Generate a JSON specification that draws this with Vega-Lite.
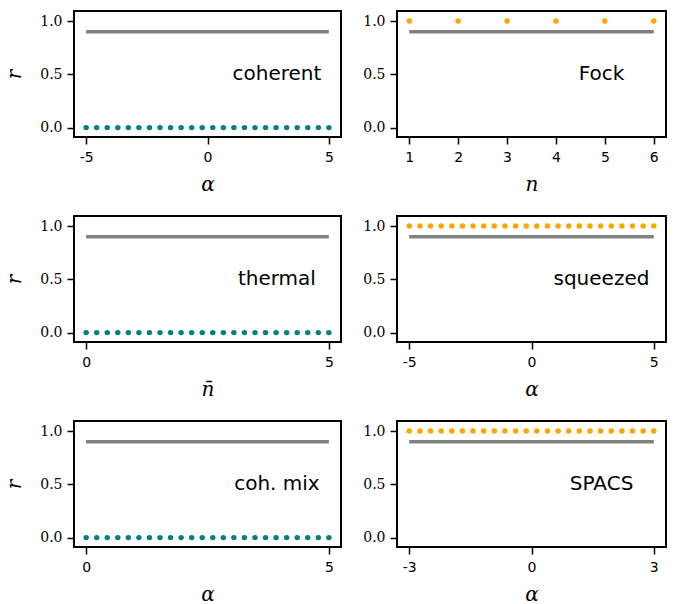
{
  "$schema": "https://vega.github.io/schema/vega-lite/v6.json",
  "padding": {"top": 10, "left": 3, "right": 5, "bottom": 5},
  "background": "white",
  "datasets": {
    "coherent": [
      {"x": -5, "r": 0, "ref": 0.9}, {"x": -4.5652, "r": 0, "ref": 0.9}, {"x": -4.1304, "r": 0, "ref": 0.9}, {"x": -3.6957, "r": 0, "ref": 0.9},
      {"x": -3.2609, "r": 0, "ref": 0.9}, {"x": -2.8261, "r": 0, "ref": 0.9}, {"x": -2.3913, "r": 0, "ref": 0.9}, {"x": -1.9565, "r": 0, "ref": 0.9},
      {"x": -1.5217, "r": 0, "ref": 0.9}, {"x": -1.087, "r": 0, "ref": 0.9}, {"x": -0.6522, "r": 0, "ref": 0.9}, {"x": -0.2174, "r": 0, "ref": 0.9},
      {"x": 0.2174, "r": 0, "ref": 0.9}, {"x": 0.6522, "r": 0, "ref": 0.9}, {"x": 1.087, "r": 0, "ref": 0.9}, {"x": 1.5217, "r": 0, "ref": 0.9},
      {"x": 1.9565, "r": 0, "ref": 0.9}, {"x": 2.3913, "r": 0, "ref": 0.9}, {"x": 2.8261, "r": 0, "ref": 0.9}, {"x": 3.2609, "r": 0, "ref": 0.9},
      {"x": 3.6957, "r": 0, "ref": 0.9}, {"x": 4.1304, "r": 0, "ref": 0.9}, {"x": 4.5652, "r": 0, "ref": 0.9}, {"x": 5, "r": 0, "ref": 0.9}
    ],
    "fock": [
      {"x": 1, "r": 1, "ref": 0.9}, {"x": 2, "r": 1, "ref": 0.9}, {"x": 3, "r": 1, "ref": 0.9},
      {"x": 4, "r": 1, "ref": 0.9}, {"x": 5, "r": 1, "ref": 0.9}, {"x": 6, "r": 1, "ref": 0.9}
    ],
    "thermal": [
      {"x": 0, "r": 0, "ref": 0.9}, {"x": 0.2174, "r": 0, "ref": 0.9}, {"x": 0.4348, "r": 0, "ref": 0.9}, {"x": 0.6522, "r": 0, "ref": 0.9},
      {"x": 0.8696, "r": 0, "ref": 0.9}, {"x": 1.087, "r": 0, "ref": 0.9}, {"x": 1.3043, "r": 0, "ref": 0.9}, {"x": 1.5217, "r": 0, "ref": 0.9},
      {"x": 1.7391, "r": 0, "ref": 0.9}, {"x": 1.9565, "r": 0, "ref": 0.9}, {"x": 2.1739, "r": 0, "ref": 0.9}, {"x": 2.3913, "r": 0, "ref": 0.9},
      {"x": 2.6087, "r": 0, "ref": 0.9}, {"x": 2.8261, "r": 0, "ref": 0.9}, {"x": 3.0435, "r": 0, "ref": 0.9}, {"x": 3.2609, "r": 0, "ref": 0.9},
      {"x": 3.4783, "r": 0, "ref": 0.9}, {"x": 3.6957, "r": 0, "ref": 0.9}, {"x": 3.913, "r": 0, "ref": 0.9}, {"x": 4.1304, "r": 0, "ref": 0.9},
      {"x": 4.3478, "r": 0, "ref": 0.9}, {"x": 4.5652, "r": 0, "ref": 0.9}, {"x": 4.7826, "r": 0, "ref": 0.9}, {"x": 5, "r": 0, "ref": 0.9}
    ],
    "squeezed": [
      {"x": -5, "r": 1, "ref": 0.9}, {"x": -4.5652, "r": 1, "ref": 0.9}, {"x": -4.1304, "r": 1, "ref": 0.9}, {"x": -3.6957, "r": 1, "ref": 0.9},
      {"x": -3.2609, "r": 1, "ref": 0.9}, {"x": -2.8261, "r": 1, "ref": 0.9}, {"x": -2.3913, "r": 1, "ref": 0.9}, {"x": -1.9565, "r": 1, "ref": 0.9},
      {"x": -1.5217, "r": 1, "ref": 0.9}, {"x": -1.087, "r": 1, "ref": 0.9}, {"x": -0.6522, "r": 1, "ref": 0.9}, {"x": -0.2174, "r": 1, "ref": 0.9},
      {"x": 0.2174, "r": 1, "ref": 0.9}, {"x": 0.6522, "r": 1, "ref": 0.9}, {"x": 1.087, "r": 1, "ref": 0.9}, {"x": 1.5217, "r": 1, "ref": 0.9},
      {"x": 1.9565, "r": 1, "ref": 0.9}, {"x": 2.3913, "r": 1, "ref": 0.9}, {"x": 2.8261, "r": 1, "ref": 0.9}, {"x": 3.2609, "r": 1, "ref": 0.9},
      {"x": 3.6957, "r": 1, "ref": 0.9}, {"x": 4.1304, "r": 1, "ref": 0.9}, {"x": 4.5652, "r": 1, "ref": 0.9}, {"x": 5, "r": 1, "ref": 0.9}
    ],
    "cohmix": [
      {"x": 0, "r": 0, "ref": 0.9}, {"x": 0.2174, "r": 0, "ref": 0.9}, {"x": 0.4348, "r": 0, "ref": 0.9}, {"x": 0.6522, "r": 0, "ref": 0.9},
      {"x": 0.8696, "r": 0, "ref": 0.9}, {"x": 1.087, "r": 0, "ref": 0.9}, {"x": 1.3043, "r": 0, "ref": 0.9}, {"x": 1.5217, "r": 0, "ref": 0.9},
      {"x": 1.7391, "r": 0, "ref": 0.9}, {"x": 1.9565, "r": 0, "ref": 0.9}, {"x": 2.1739, "r": 0, "ref": 0.9}, {"x": 2.3913, "r": 0, "ref": 0.9},
      {"x": 2.6087, "r": 0, "ref": 0.9}, {"x": 2.8261, "r": 0, "ref": 0.9}, {"x": 3.0435, "r": 0, "ref": 0.9}, {"x": 3.2609, "r": 0, "ref": 0.9},
      {"x": 3.4783, "r": 0, "ref": 0.9}, {"x": 3.6957, "r": 0, "ref": 0.9}, {"x": 3.913, "r": 0, "ref": 0.9}, {"x": 4.1304, "r": 0, "ref": 0.9},
      {"x": 4.3478, "r": 0, "ref": 0.9}, {"x": 4.5652, "r": 0, "ref": 0.9}, {"x": 4.7826, "r": 0, "ref": 0.9}, {"x": 5, "r": 0, "ref": 0.9}
    ],
    "spacs": [
      {"x": -3, "r": 1, "ref": 0.9}, {"x": -2.7391, "r": 1, "ref": 0.9}, {"x": -2.4783, "r": 1, "ref": 0.9}, {"x": -2.2174, "r": 1, "ref": 0.9},
      {"x": -1.9565, "r": 1, "ref": 0.9}, {"x": -1.6957, "r": 1, "ref": 0.9}, {"x": -1.4348, "r": 1, "ref": 0.9}, {"x": -1.1739, "r": 1, "ref": 0.9},
      {"x": -0.913, "r": 1, "ref": 0.9}, {"x": -0.6522, "r": 1, "ref": 0.9}, {"x": -0.3913, "r": 1, "ref": 0.9}, {"x": -0.1304, "r": 1, "ref": 0.9},
      {"x": 0.1304, "r": 1, "ref": 0.9}, {"x": 0.3913, "r": 1, "ref": 0.9}, {"x": 0.6522, "r": 1, "ref": 0.9}, {"x": 0.913, "r": 1, "ref": 0.9},
      {"x": 1.1739, "r": 1, "ref": 0.9}, {"x": 1.4348, "r": 1, "ref": 0.9}, {"x": 1.6957, "r": 1, "ref": 0.9}, {"x": 1.9565, "r": 1, "ref": 0.9},
      {"x": 2.2174, "r": 1, "ref": 0.9}, {"x": 2.4783, "r": 1, "ref": 0.9}, {"x": 2.7391, "r": 1, "ref": 0.9}, {"x": 3, "r": 1, "ref": 0.9}
    ]
  },
  "spacing": 20,
  "vconcat": [
    {
      "spacing": 19,
      "hconcat": [
        {
          "width": 267, "height": 126,
          "layer": [
            {"data": {"name": "coherent"}, "mark": {"type": "line", "color": "#808080", "strokeWidth": 3.5},
             "encoding": {
               "x": {"field": "x", "type": "quantitative", "scale": {"domain": [-5.5, 5.5], "nice": false, "zero": false}, "axis": {"values": [-5, 0, 5], "title": "α"}},
               "y": {"field": "ref", "type": "quantitative", "scale": {"domain": [-0.088, 1.094], "nice": false}, "axis": {"values": [0, 0.5, 1], "title": "r"}}}},
            {"data": {"name": "coherent"}, "mark": {"type": "circle", "color": "#008080", "size": 30, "opacity": 1},
             "encoding": {"x": {"field": "x", "type": "quantitative"}, "y": {"field": "r", "type": "quantitative"}}},
            {"data": {"values": [{"x": 2.86, "y": 0.5, "label": "coherent"}]}, "mark": {"type": "text", "fontSize": 20, "font": "DejaVu Sans", "align": "center", "baseline": "middle", "color": "black"},
             "encoding": {"x": {"field": "x", "type": "quantitative"}, "y": {"field": "y", "type": "quantitative"}, "text": {"field": "label"}}}
          ]
        },
        {
          "width": 269, "height": 126,
          "layer": [
            {"data": {"name": "fock"}, "mark": {"type": "line", "color": "#808080", "strokeWidth": 3.5},
             "encoding": {
               "x": {"field": "x", "type": "quantitative", "scale": {"domain": [0.75, 6.25], "nice": false, "zero": false}, "axis": {"values": [1, 2, 3, 4, 5, 6], "title": "n"}},
               "y": {"field": "ref", "type": "quantitative", "scale": {"domain": [-0.088, 1.094], "nice": false}, "axis": {"values": [0, 0.5, 1], "title": null}}}},
            {"data": {"name": "fock"}, "mark": {"type": "circle", "color": "#FFA500", "size": 30, "opacity": 1},
             "encoding": {"x": {"field": "x", "type": "quantitative"}, "y": {"field": "r", "type": "quantitative"}}},
            {"data": {"values": [{"x": 4.93, "y": 0.5, "label": "Fock"}]}, "mark": {"type": "text", "fontSize": 20, "font": "DejaVu Sans", "align": "center", "baseline": "middle", "color": "black"},
             "encoding": {"x": {"field": "x", "type": "quantitative"}, "y": {"field": "y", "type": "quantitative"}, "text": {"field": "label"}}}
          ]
        }
      ]
    },
    {
      "spacing": 19,
      "hconcat": [
        {
          "width": 267, "height": 126,
          "layer": [
            {"data": {"name": "thermal"}, "mark": {"type": "line", "color": "#808080", "strokeWidth": 3.5},
             "encoding": {
               "x": {"field": "x", "type": "quantitative", "scale": {"domain": [-0.25, 5.25], "nice": false, "zero": false}, "axis": {"values": [0, 5], "title": "n̄"}},
               "y": {"field": "ref", "type": "quantitative", "scale": {"domain": [-0.088, 1.094], "nice": false}, "axis": {"values": [0, 0.5, 1], "title": "r"}}}},
            {"data": {"name": "thermal"}, "mark": {"type": "circle", "color": "#008080", "size": 30, "opacity": 1},
             "encoding": {"x": {"field": "x", "type": "quantitative"}, "y": {"field": "r", "type": "quantitative"}}},
            {"data": {"values": [{"x": 3.93, "y": 0.5, "label": "thermal"}]}, "mark": {"type": "text", "fontSize": 20, "font": "DejaVu Sans", "align": "center", "baseline": "middle", "color": "black"},
             "encoding": {"x": {"field": "x", "type": "quantitative"}, "y": {"field": "y", "type": "quantitative"}, "text": {"field": "label"}}}
          ]
        },
        {
          "width": 269, "height": 126,
          "layer": [
            {"data": {"name": "squeezed"}, "mark": {"type": "line", "color": "#808080", "strokeWidth": 3.5},
             "encoding": {
               "x": {"field": "x", "type": "quantitative", "scale": {"domain": [-5.5, 5.5], "nice": false, "zero": false}, "axis": {"values": [-5, 0, 5], "title": "α"}},
               "y": {"field": "ref", "type": "quantitative", "scale": {"domain": [-0.088, 1.094], "nice": false}, "axis": {"values": [0, 0.5, 1], "title": null}}}},
            {"data": {"name": "squeezed"}, "mark": {"type": "circle", "color": "#FFA500", "size": 30, "opacity": 1},
             "encoding": {"x": {"field": "x", "type": "quantitative"}, "y": {"field": "r", "type": "quantitative"}}},
            {"data": {"values": [{"x": 2.86, "y": 0.5, "label": "squeezed"}]}, "mark": {"type": "text", "fontSize": 20, "font": "DejaVu Sans", "align": "center", "baseline": "middle", "color": "black"},
             "encoding": {"x": {"field": "x", "type": "quantitative"}, "y": {"field": "y", "type": "quantitative"}, "text": {"field": "label"}}}
          ]
        }
      ]
    },
    {
      "spacing": 19,
      "hconcat": [
        {
          "width": 267, "height": 126,
          "layer": [
            {"data": {"name": "cohmix"}, "mark": {"type": "line", "color": "#808080", "strokeWidth": 3.5},
             "encoding": {
               "x": {"field": "x", "type": "quantitative", "scale": {"domain": [-0.25, 5.25], "nice": false, "zero": false}, "axis": {"values": [0, 5], "title": "α"}},
               "y": {"field": "ref", "type": "quantitative", "scale": {"domain": [-0.088, 1.094], "nice": false}, "axis": {"values": [0, 0.5, 1], "title": "r"}}}},
            {"data": {"name": "cohmix"}, "mark": {"type": "circle", "color": "#008080", "size": 30, "opacity": 1},
             "encoding": {"x": {"field": "x", "type": "quantitative"}, "y": {"field": "r", "type": "quantitative"}}},
            {"data": {"values": [{"x": 3.93, "y": 0.5, "label": "coh.  mix"}]}, "mark": {"type": "text", "fontSize": 20, "font": "DejaVu Sans", "align": "center", "baseline": "middle", "color": "black"},
             "encoding": {"x": {"field": "x", "type": "quantitative"}, "y": {"field": "y", "type": "quantitative"}, "text": {"field": "label"}}}
          ]
        },
        {
          "width": 269, "height": 126,
          "layer": [
            {"data": {"name": "spacs"}, "mark": {"type": "line", "color": "#808080", "strokeWidth": 3.5},
             "encoding": {
               "x": {"field": "x", "type": "quantitative", "scale": {"domain": [-3.3, 3.3], "nice": false, "zero": false}, "axis": {"values": [-3, 0, 3], "title": "α"}},
               "y": {"field": "ref", "type": "quantitative", "scale": {"domain": [-0.088, 1.094], "nice": false}, "axis": {"values": [0, 0.5, 1], "title": null}}}},
            {"data": {"name": "spacs"}, "mark": {"type": "circle", "color": "#FFA500", "size": 30, "opacity": 1},
             "encoding": {"x": {"field": "x", "type": "quantitative"}, "y": {"field": "r", "type": "quantitative"}}},
            {"data": {"values": [{"x": 1.72, "y": 0.5, "label": "SPACS"}]}, "mark": {"type": "text", "fontSize": 20, "font": "DejaVu Sans", "align": "center", "baseline": "middle", "color": "black"},
             "encoding": {"x": {"field": "x", "type": "quantitative"}, "y": {"field": "y", "type": "quantitative"}, "text": {"field": "label"}}}
          ]
        }
      ]
    }
  ],
  "config": {
    "view": {"stroke": "black", "strokeWidth": 2},
    "axis": {"domain": false, "grid": false, "ticks": true, "tickColor": "black", "tickWidth": 1.5, "tickSize": 7, "labelColor": "black", "titleColor": "black", "titleFontWeight": "normal"},
    "axisX": {"labelFont": "DejaVu Sans", "labelFontSize": 14, "labelPadding": 6, "labelExpr": "datum.value < 0 ? '-' + abs(datum.value) : '' + datum.value", "titleFont": "DejaVu Serif", "titleFontStyle": "italic", "titleFontSize": 20, "titleFontWeight": "normal", "titlePadding": 10},
    "axisY": {"labelFont": "DejaVu Serif", "labelFontSize": 14, "labelPadding": 5, "format": ".1f", "titleFont": "DejaVu Serif", "titleFontStyle": "italic", "titleFontSize": 20, "titleFontWeight": "normal", "titlePadding": 15}
  }
}
